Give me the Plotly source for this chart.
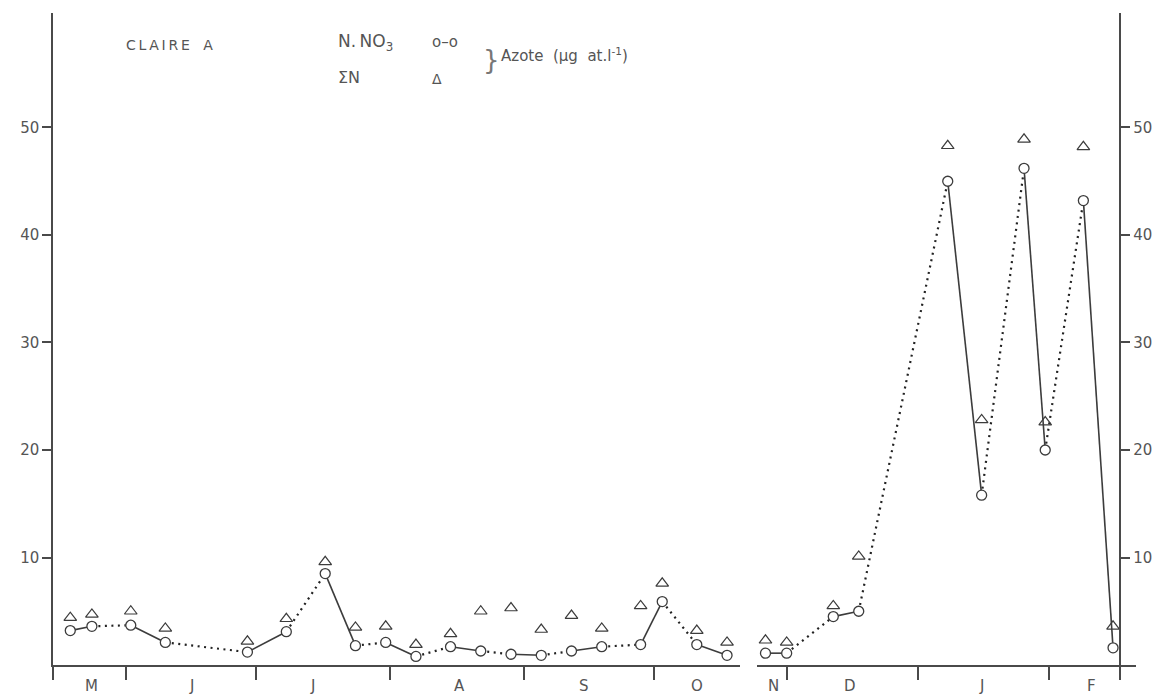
import plotly.graph_objects as go
from datetime import datetime

# ---------------- data ----------------
# Panel 1 : May -> October
dates_1 = ["1974-05-19", "1974-05-24", "1974-06-02", "1974-06-10", "1974-06-29",
           "1974-07-08", "1974-07-17", "1974-07-24", "1974-07-31", "1974-08-07",
           "1974-08-15", "1974-08-22", "1974-08-29", "1974-09-05", "1974-09-12",
           "1974-09-19", "1974-09-28", "1974-10-03", "1974-10-11", "1974-10-18"]
no3_1 = [3.2, 3.6, 3.7, 2.1, 1.2, 3.1, 8.5, 1.8, 2.1, 0.8,
         1.7, 1.3, 1.0, 0.9, 1.3, 1.7, 1.9, 5.9, 1.9, 0.9]
sumn_1 = [4.4, 4.7, 5.0, 3.4, 2.2, 4.3, 9.6, 3.5, 3.6, 1.9,
          2.9, 5.0, 5.3, 3.3, 4.6, 3.4, 5.5, 7.6, 3.2, 2.1]

# Panel 2 : November -> February
dates_2 = ["1974-11-26", "1974-12-01", "1974-12-12", "1974-12-18", "1975-01-08",
           "1975-01-16", "1975-01-26", "1975-01-31", "1975-02-09", "1975-02-16"]
no3_2 = [1.1, 1.1, 4.5, 5.0, 45.0, 15.8, 46.2, 20.0, 43.2, 1.6]
sumn_2 = [2.3, 2.1, 5.5, 10.1, 48.3, 22.8, 48.9, 22.6, 48.2, 3.6]

months_1 = ["M", "J", "J", "A", "S", "O"]
month_mid_1 = ["1974-05-24", "1974-06-16", "1974-07-14", "1974-08-17", "1974-09-15", "1974-10-11"]
months_2 = ["N", "D", "J", "F"]
month_mid_2 = ["1974-11-28", "1974-12-16", "1975-01-16", "1975-02-11"]

range_1 = ["1974-05-15", "1974-10-21"]
range_2 = ["1974-11-24", "1975-02-21 10:00"]
bounds_1 = ["1974-05-15", "1974-06-01", "1974-07-01", "1974-08-01", "1974-09-01", "1974-10-01"]
right_axis_date = "1975-02-17 18:00"
bounds_2 = ["1974-12-01", "1975-01-01", "1975-02-01", right_axis_date]

y_ticks = [10, 20, 30, 40, 50]
y_range = [0, 60.65]

# ---------------- layout helpers ----------------
W, H = 1172, 695
ML, MR, MT, MB = 53, 36, 13, 30
PW, PH = W - ML - MR, H - MT - MB


def px(x):
    return (x - ML) / PW


def py(y):
    return (H - MB - y) / PH


dom1 = [0.0, px(740)]
dom2 = [px(757), 1.0]


def to_dt(s):
    for f in ("%Y-%m-%d %H:%M", "%Y-%m-%d"):
        try:
            return datetime.strptime(s, f)
        except ValueError:
            pass


r0, r1, ra = to_dt(range_2[0]), to_dt(range_2[1]), to_dt(right_axis_date)
right_pos = dom2[0] + (dom2[1] - dom2[0]) * (ra - r0).total_seconds() / (r1 - r0).total_seconds()

INK = "#3c3c3c"
TXT = "#555555"
FONT = "DejaVu Sans"

fig = go.Figure()


def add_panel(xs, no3, sumn, xref, tri_yref):
    sx, sy, dx, dy = [], [], [], []
    for i in range(len(xs) - 1):
        if i % 2 == 0:
            sx += [xs[i], xs[i + 1], None]
            sy += [no3[i], no3[i + 1], None]
        else:
            dx += [xs[i], xs[i + 1], None]
            dy += [no3[i], no3[i + 1], None]
    fig.add_trace(go.Scatter(x=sx, y=sy, xaxis=xref, yaxis="y", mode="lines",
                             line=dict(color=INK, width=1.6), showlegend=False,
                             hoverinfo="skip"))
    fig.add_trace(go.Scatter(x=dx, y=dy, xaxis=xref, yaxis="y", mode="lines",
                             line=dict(color="#222222", width=2.2, dash="2px,4.5px"),
                             showlegend=False, hoverinfo="skip"))
    fig.add_trace(go.Scatter(x=xs, y=no3, xaxis=xref, yaxis="y", mode="markers",
                             marker=dict(symbol="circle", size=10, color="white",
                                         line=dict(color=INK, width=1.3)),
                             name="N.NO3", showlegend=False))
    fig.add_trace(go.Scatter(x=xs, y=sumn, xaxis=xref, yaxis=tri_yref, mode="markers",
                             marker=dict(symbol="triangle-up-open", size=11, color=INK,
                                         line=dict(color=INK, width=1.2)),
                             name="ΣN", showlegend=False))


add_panel(dates_1, no3_1, sumn_1, "x", "y")
add_panel(dates_2, no3_2, sumn_2, "x2", "y2")

axis_common = dict(showgrid=False, zeroline=False, showline=True, linecolor="#4a4a4a",
                   linewidth=1.5, ticks="outside", tickcolor="#4a4a4a", tickwidth=1.5)

fig.update_layout(
    width=W, height=H, autosize=False,
    margin=dict(l=ML, r=MR, t=MT, b=MB, pad=0),
    paper_bgcolor="white", plot_bgcolor="white",
    font=dict(family=FONT, size=13, color=TXT),
    xaxis=dict(domain=dom1, type="date", range=range_1, anchor="y",
               tickvals=bounds_1, showticklabels=False, ticklen=13, **axis_common),
    xaxis2=dict(domain=dom2, type="date", range=range_2, anchor="y",
                tickvals=bounds_2, showticklabels=False, ticklen=13, **axis_common),
    yaxis=dict(domain=[0, 1], range=y_range, anchor="x", tickvals=y_ticks,
               ticklen=9, tickfont=dict(family=FONT, size=15, color=TXT), **axis_common),
    yaxis2=dict(overlaying="y", side="right", anchor="free", position=right_pos,
                range=y_range, tickvals=y_ticks, ticklen=9,
                tickfont=dict(family=FONT, size=15, color=TXT), **axis_common),
)

# month labels
for lab, mid in zip(months_1, month_mid_1):
    fig.add_annotation(x=mid, xref="x", y=py(686), yref="paper", text=lab,
                       showarrow=False, font=dict(family=FONT, size=15, color=TXT),
                       xanchor="center", yanchor="middle")
for lab, mid in zip(months_2, month_mid_2):
    fig.add_annotation(x=mid, xref="x2", y=py(686), yref="paper", text=lab,
                       showarrow=False, font=dict(family=FONT, size=15, color=TXT),
                       xanchor="center", yanchor="middle")


def note(text, x, y, size=13, xanchor="left", color=TXT):
    fig.add_annotation(x=px(x), y=py(y), xref="paper", yref="paper", text=text,
                       showarrow=False, xanchor=xanchor, yanchor="middle",
                       font=dict(family=FONT, size=size, color=color))


T = "\u2009"  # thin space used for the wide lettering of the original
note(T.join("CLAIRE") + "   A", 124, 45, size=14)
note("N." + T + "NO<sub>3</sub>", 336, 43, size=17)
note("o–o", 430, 42, size=15)
note("ΣN", 336, 78, size=16)
note("Δ", 430, 79, size=14)
note("}", 481, 60, size=26, color="#777777")
note("Azote  (µg  at.l<sup>-1</sup>)", 499, 55, size=15)

fig.write_html("out.html")
